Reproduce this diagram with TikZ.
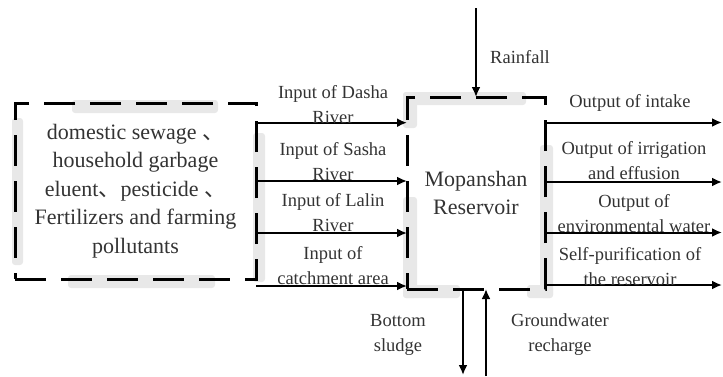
\documentclass[tikz,border=0pt]{standalone}
\usepackage{fontspec}
\setmainfont{Liberation Serif}
\newfontfamily\cjk{Noto Sans CJK SC}
\usetikzlibrary{arrows.meta,positioning,calc}
\definecolor{patchgray}{RGB}{232,232,232}
\definecolor{textgray}{RGB}{51,51,51}

\begin{document}
\begin{tikzpicture}[x=1pt, y=-1pt,
    every node/.style={text=textgray, inner sep=0pt, outer sep=0pt},
    lbl/.style={font=\fontsize{18.5}{25}\selectfont, align=center},
    bigtxt/.style={font=\fontsize{22}{28.5}\selectfont, align=center},
    dashbox/.style={draw=black, line width=3pt, dash pattern=on 31pt off 15pt},
    flow/.style={-{Latex[length=10pt,width=9pt]}, line width=2pt},
    patch/.style={fill=patchgray, draw=none, rounded corners=3pt}]
    \useasboundingbox (0,0) rectangle (723,376);

    % Grey patches behind the dashed boxes
    \fill[patch] (72,100) rectangle (218,113);
    \fill[patch] (12,118) rectangle (23,265);
    \fill[patch] (68,275) rectangle (215,288);
    \fill[patch] (253,133) rectangle (265,282);
    \fill[patch] (403,92) rectangle (526,105);
    \fill[patch] (403,92) rectangle (417,128);
    \fill[patch] (403,197) rectangle (417,298);
    \fill[patch] (403,285) rectangle (460,298);
    \fill[patch] (527,285) rectangle (553,298);
    \fill[patch] (540,145) rectangle (553,298);

    % Pollution sources
    \node[dashbox, bigtxt, minimum width=241pt, minimum height=176pt] (src) at (135.5,191)
        {domestic sewage {\cjk 、}\\household garbage\\eluent{\cjk 、}pesticide {\cjk 、}\\Fertilizers and farming\\pollutants};

    % Reservoir
    \node[dashbox, bigtxt, minimum width=138pt, minimum height=192pt] (res) at (476,193)
        {Mopanshan\\Reservoir};

    % Inputs
    \draw[flow] (src.east |- 0,122.7) -- (res.west |- 0,122.7);
    \draw[flow] (src.east |- 0,181) -- (res.west |- 0,181);
    \draw[flow] (src.east |- 0,233) -- (res.west |- 0,233);
    \draw[flow] (src.east |- 0,286) -- (res.west |- 0,286);

    \node[lbl] (inDasha) at (333,104.5) {Input of Dasha\\River};
    \node[lbl] (inSasha) at (333,161.5) {Input of Sasha\\River};
    \node[lbl] (inLalin) at (333,212.5) {Input of Lalin\\River};
    \node[lbl] (inCatch) at (333,266) {Input of\\catchment area};

    % Outputs
    \coordinate (out1) at (722,122.5);
    \coordinate (out2) at (722,182);
    \coordinate (out3) at (722,232.5);
    \coordinate (out4) at (722,285);
    \draw[flow] (res.east |- out1) -- (out1);
    \draw[flow] (res.east |- out2) -- (out2);
    \draw[flow] (res.east |- out3) -- (out3);
    \draw[flow] (res.east |- out4) -- (out4);

    \node[lbl] (outIntake) at (630,103) {Output of intake};
    \node[lbl] (outIrrig) at (634,160.5) {Output of irrigation\\and effusion};
    \node[lbl] (outEnv) at (634,213.5) {Output of\\environmental water};
    \node[lbl] (outSelf) at (630,266.5) {Self-purification of\\the reservoir};

    % Rainfall
    \coordinate (rainTop) at (476,8);
    \draw[flow] (rainTop) -- (res.north);
    \node[lbl] (rain) at (520,57) {Rainfall};

    % Bottom exchange
    \coordinate (sludgeEnd) at (463,375);
    \coordinate (gwStart) at (486,376);
    \draw[flow] (res.south -| sludgeEnd) -- (sludgeEnd);
    \draw[flow] (gwStart) -- (res.south -| gwStart);
    \node[lbl] (sludge) at (398,335) {Bottom\\sludge};
    \node[lbl] (gw) at (560,335) {Groundwater\\recharge};
\end{tikzpicture}
\end{document}
